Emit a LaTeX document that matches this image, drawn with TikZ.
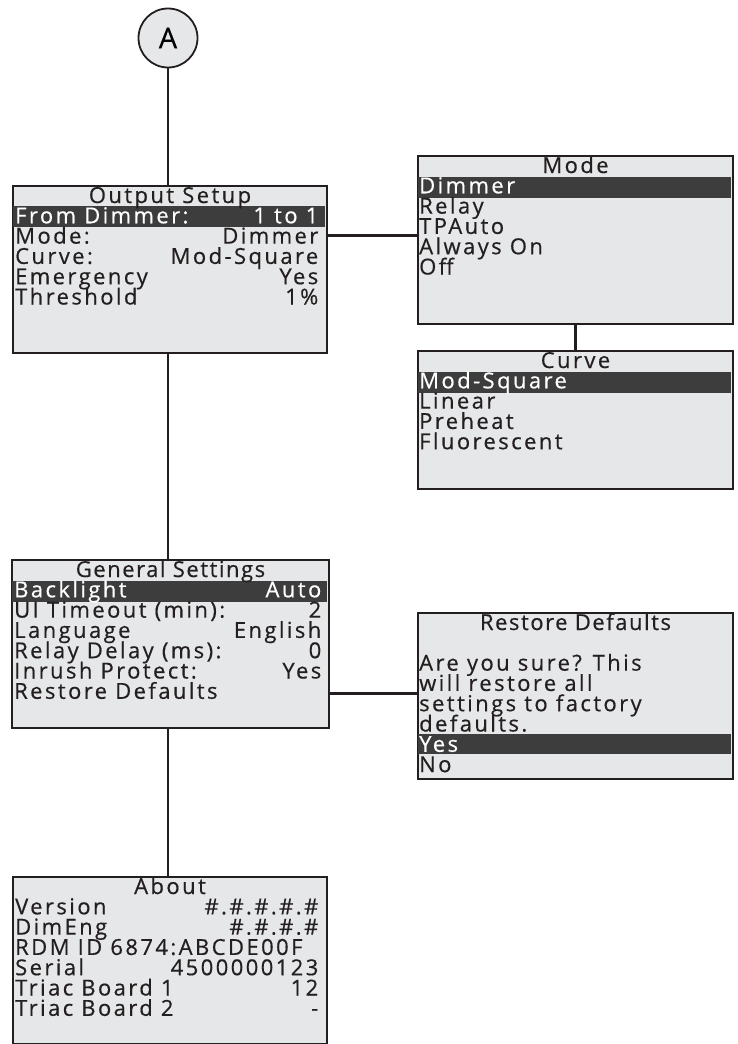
\documentclass[tikz,border=0pt]{standalone}
\usepackage{fontspec}
\newfontfamily\lcdfont[LetterSpace=11, FakeBold=0.5]{Open Sans}
\newfontfamily\lcdnarrow[LetterSpace=7, FakeBold=0.5]{Open Sans}
\newfontfamily\tagfont[FakeBold=0.5]{Open Sans}
\definecolor{lcdgray}{HTML}{E6E7E8}
\definecolor{lcddark}{HTML}{3D3D3D}
\definecolor{ink}{HTML}{231F20}
\tikzset{
	screen/.style = {draw = ink, line width = 1.8pt, fill = lcdgray, anchor = north west, inner sep = 0pt},
	link/.style = {draw = ink, line width = 2.6pt},
	row/.style = {inner sep = 0pt, text = ink, font = \lcdfont\fontsize{22}{22}\selectfont},
	nrow/.style = {row, font = \lcdnarrow\fontsize{22}{22}\selectfont},
	lrow/.style = {row, anchor = base west},
	rrow/.style = {row, anchor = base east},
	hl/.style = {text = white}
}

\begin{document}
\begin{tikzpicture}[x = 1pt, y = -1pt]
\useasboundingbox (0,0) rectangle (737,1044);

% screens
\node[circle, draw = ink, line width = 1.8pt, fill = lcdgray, minimum size = 59pt, inner sep = 0pt, font = \tagfont\fontsize{29}{29}\selectfont] (A) at (168,38) {A};
\node[screen, minimum width = 314pt, minimum height = 167pt] (out) at (12,185) {};
\node[screen, minimum width = 315pt, minimum height = 168pt] (mode) at (417,155) {};
\node[screen, minimum width = 315pt, minimum height = 138pt] (curve) at (417,350) {};
\node[screen, minimum width = 317pt, minimum height = 168pt] (gen) at (11,559) {};
\node[screen, minimum width = 315pt, minimum height = 166pt] (rest) at (417,612) {};
\node[screen, minimum width = 314pt, minimum height = 167pt] (about) at (12,876) {};

% highlighted lines
\fill[lcddark] (12.9,206) rectangle (325.1,227);
\fill[lcddark] (417.9,177) rectangle (731.1,198);
\fill[lcddark] (417.9,372) rectangle (731.1,393);
\fill[lcddark] (11.9,581) rectangle (327.1,602);
\fill[lcddark] (417.9,734) rectangle (731.1,754);

% Output Setup
\node[row, anchor = base] (outt) at (170,203) {Output Setup};
\node[lrow, hl] (outl1) at (15,223.3) {From Dimmer:};
\node[rrow, hl] (outr1) at (318.5,223.3) {1 to 1};
\foreach \l/\r [count = \i from 2] in {Mode:/Dimmer, Curve:/Mod-Square, Emergency/Yes, Threshold/1\%}{
	\node[lrow] (outl\i) at (15,{203+20.3*\i}) {\l};
	\node[rrow] (outr\i) at (318.5,{203+20.3*\i}) {\r};
}

% Mode
\node[row, anchor = base] (modet) at (575.5,173) {Mode};
\node[lrow, hl] (model1) at (419,193.3) {Dimmer};
\foreach \l [count = \i from 2] in {Relay, TPAuto, Always On, Off}
	\node[lrow] (model\i) at (419,{173+20.3*\i}) {\l};

% Curve
\node[row, anchor = base] (curvet) at (575.5,368) {Curve};
\node[lrow, hl] (curvel1) at (419,388.3) {Mod-Square};
\foreach \l [count = \i from 2] in {Linear, Preheat, Fluorescent}
	\node[lrow] (curvel\i) at (419,{368+20.3*\i}) {\l};

% General Settings
\node[nrow, anchor = base] (gent) at (170.5,577) {General Settings};
\node[lrow, hl] (genl1) at (14,597.3) {Backlight};
\node[rrow, hl] (genr1) at (321.5,597.3) {Auto};
\foreach \l/\r [count = \i from 2] in {UI Timeout (min):/2, Language/English, Relay Delay (ms):/0, Inrush Protect:/Yes}{
	\node[lrow] (genl\i) at (14,{577+20.3*\i}) {\l};
	\node[rrow] (genr\i) at (321.5,{577+20.3*\i}) {\r};
}
\node[lrow] (genl6) at (14,698.8) {Restore Defaults};

% Restore Defaults
\node[nrow, anchor = base] (restt) at (575.5,630) {Restore Defaults};
\foreach \l [count = \i from 2] in {Are you sure? This, will restore all, settings to factory, defaults.}
	\node[lrow] (restl\i) at (419,{630+20.3*\i}) {\l};
\node[lrow, hl] (restl6) at (419,751.8) {Yes};
\node[lrow] (restl7) at (419,772.1) {No};

% About
\node[row, anchor = base] (aboutt) at (170,894) {About};
\foreach \l/\r [count = \i from 1] in {Version/\#.\#.\#.\#.\#, DimEng/\#.\#.\#.\#, Serial/4500000123, Triac Board 1/12, Triac Board 2/-}{
	\pgfmathtruncatemacro\k{\i<3 ? \i : \i+1}
	\node[lrow] (aboutl\k) at (15,{894+20.3*\k}) {\l};
	\node[rrow] (aboutr\k) at (318.5,{894+20.3*\k}) {\r};
}
\node[lrow] (aboutl3) at (15,954.9) {RDM ID 6874:ABCDE00F};

% connectors
\draw[link] (A.south) -- (A.south |- out.north);
\draw[link] (outl2 -| out.east) -- (outl2 -| mode.west);
\draw[link] (mode.south) -- (curve.north);
\draw[link] (A.south |- out.south) -- (A.south |- gen.north);
\draw[link] ([yshift=-3pt]genl6.center -| gen.east) -- ([yshift=-3pt]genl6.center -| rest.west);
\draw[link] (A.south |- gen.south) -- (A.south |- about.north);
\end{tikzpicture}
\end{document}
